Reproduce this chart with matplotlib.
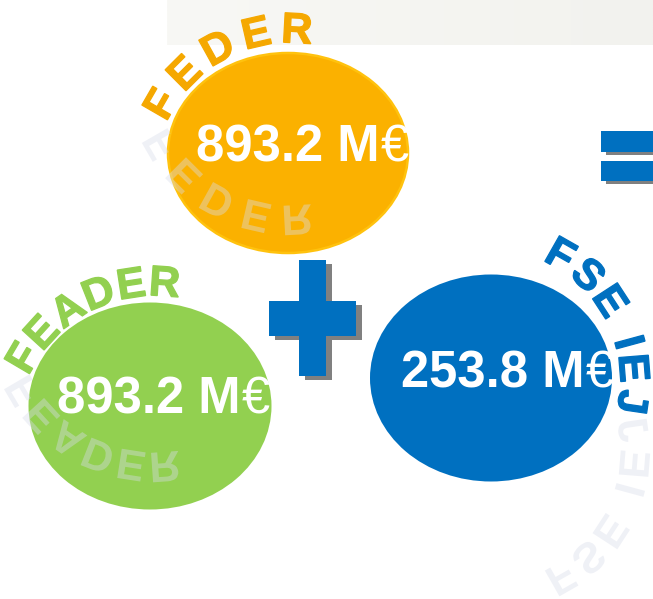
import numpy as np
import matplotlib
matplotlib.use("Agg")
import matplotlib.pyplot as plt
from matplotlib.patches import Ellipse, Rectangle, PathPatch
from matplotlib.textpath import TextPath
from matplotlib.font_manager import FontProperties
from matplotlib.transforms import Affine2D

# data
funds = ["FEDER", "FEADER", "FSE IEJ"]
amounts = [893.2, 893.2, 253.8]
fund_colors = ["#FBB100", "#92D050", "#0070C0"]
label_colors = ["#F5A800", "#92D050", "#0070C0"]

W, H = 653, 599
bold = FontProperties(family="Liberation Sans", weight="bold")
ARC_SIZE = 43

# layout of each bubble (pixel coords, y down)
layout = [
    dict(ell=(288, 153, 240, 200), edge="#FFC20E", arc=(290, 178, 150, -60, 12), mirror=124, num=(196, 162)),
    dict(ell=(150, 406, 243, 207), edge=None, arc=(155, 435, 154, -59.5, 4.5), mirror=374, num=(57, 413)),
    dict(ell=(491, 378, 242, 207), edge=None, arc=(490, 380, 145, 29.6, 6.5), mirror=416, num=(401, 387)),
]


def advance(ch, size):
    a = TextPath((0, 0), "I" + ch + "I", size=size, prop=bold).get_extents().width
    b = TextPath((0, 0), "II", size=size, prop=bold).get_extents().width
    return a - b


def arc_text(ax, text, cx, cy, r, start, track, size, color, mirror=None, alpha=1.0):
    cap = TextPath((0, 0), "H", size=size, prop=bold).get_extents().height
    theta = start
    prev = None
    for ch in text:
        w = advance(ch, size)
        if prev is not None:
            theta += np.degrees((prev / 2 + track + w / 2) / r)
        prev = w
        if ch == " ":
            continue
        tp = TextPath((0, 0), ch, size=size, prop=bold)
        bb = tp.get_extents()
        px = cx + r * np.sin(np.radians(theta))
        py = cy - r * np.cos(np.radians(theta))
        tr = (Affine2D().translate(-(bb.x0 + bb.x1) / 2, -cap / 2)
              .scale(1, -1).rotate_deg(theta).translate(px, py))
        if mirror is not None:
            tr = tr + Affine2D().translate(0, -mirror).scale(1, -1).translate(0, mirror)
        path = tr.transform_path(tp)
        if mirror is None:
            ax.add_patch(PathPatch(path, facecolor=color, edgecolor=color,
                                   linewidth=0.9, zorder=4))
        else:
            ax.add_patch(PathPatch(path, facecolor=color, edgecolor="none",
                                   alpha=alpha, zorder=3))


fig = plt.figure(figsize=(W / 100, H / 100), dpi=100)
ax = fig.add_axes([0, 0, 1, 1])
ax.set_xlim(0, W)
ax.set_ylim(H, 0)
ax.axis("off")

# light band on top
grad = np.linspace(0, 1, 200)[None, :, None]
c0 = np.array([248, 248, 245]) / 255
c1 = np.array([242, 242, 238]) / 255
ax.imshow(c0 + (c1 - c0) * grad, extent=[167, W, 45, 0], aspect="auto", zorder=0)

for name, amt, fc, lc, lay in zip(funds, amounts, fund_colors, label_colors, layout):
    x, y, w, h = lay["ell"]
    ax.add_patch(Ellipse((x, y), w, h, facecolor=fc,
                         edgecolor=lay["edge"] or "none", linewidth=1.8, zorder=2))
    cx, cy, r, start, track = lay["arc"]
    arc_text(ax, name, cx, cy, r, start, track, ARC_SIZE, lc)
    arc_text(ax, name, cx, cy, r, start, track, ARC_SIZE, "#D8DCEA",
             mirror=lay["mirror"], alpha=0.4)

# plus and equal signs with shadow
blue = "#0070C0"
shadow = "#808080"
plus = [(299, 260, 27, 116), (269, 301, 87, 35)]
for (x, y, w, h) in plus:
    ax.add_patch(Rectangle((x + 6, y + 4), w, h, facecolor=shadow, edgecolor="none", zorder=5))
for (x, y, w, h) in plus:
    ax.add_patch(Rectangle((x, y), w, h, facecolor=blue, edgecolor="none", zorder=6))
equal = [(601, 131, 60, 21), (601, 161, 60, 20)]
for (x, y, w, h) in equal:
    ax.add_patch(Rectangle((x + 5, y + 3), w, h, facecolor=shadow, edgecolor="none", zorder=5))
for (x, y, w, h) in equal:
    ax.add_patch(Rectangle((x, y), w, h, facecolor=blue, edgecolor="none", zorder=6))

# amounts
renderer = fig.canvas.get_renderer()
for amt, lay in zip(amounts, layout):
    nx, ny = lay["num"]
    t = ax.text(nx, ny, f"{amt:.1f} M", color="white", fontsize=36.5,
                fontfamily="Liberation Sans", fontweight="bold",
                ha="left", va="baseline", zorder=7)
    bb = t.get_window_extent(renderer)
    ax.text(bb.x1 + 1, ny, "€", color="white", fontsize=36.5,
            fontfamily="Liberation Sans", ha="left", va="baseline", zorder=7)

fig.savefig("out.png", dpi=100, facecolor="white")
